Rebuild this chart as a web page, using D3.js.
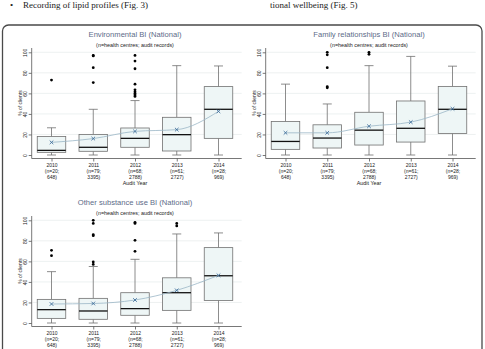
<!DOCTYPE html>
<html>
<head>
<meta charset="utf-8">
<script src="https://cdn.jsdelivr.net/npm/d3@7"></script>
<style>
body { margin: 0; background: #fff; }
svg { display: block; }
</style>
</head>
<body>
<svg id="chart"></svg>
<script>
var years = ["2010", "2011", "2012", "2013", "2014"];
var nCentres = ["(n=20;", "(n=79;", "(n=68;", "(n=61;", "(n=28;"];
var nRecords = ["648)", "3395)", "2788)", "2727)", "969)"];
var yTicks = [0, 20, 40, 60, 80, 100];

// box stats per year: [low whisker, q1, median, q3, high whisker]
var envBoxes = [
  [0, 2.6, 4.5, 18, 26.5],
  [0, 3.6, 7.5, 20, 44.5],
  [0, 7.5, 16.2, 26.3, 53],
  [0, 3.9, 19.8, 36.7, 87],
  [0, 16.2, 44.5, 66.6, 86.7]
];
var envMeans = [12.3, 16, 23, 24.7, 42.5];
var envOutliers = [[73], [97, 96.5, 85, 70.5], [97, 91.5, 84, 69, 63.5, 61.5, 60, 58.5, 57], [], []];

var famBoxes = [
  [0, 5.5, 13.2, 32.6, 69],
  [0, 6.8, 16.5, 29.4, 49.7],
  [0, 9.7, 24.2, 41.6, 87],
  [0, 12.6, 26, 52.6, 96],
  [0, 21, 44.5, 66.8, 86.5]
];
var famMeans = [21.6, 21.6, 28, 32, 45];
var famOutliers = [[], [100, 97.5, 85, 66.5, 65.5], [100, 98], [], []];

var othBoxes = [
  [0, 4.5, 13, 23, 50],
  [0, 3.6, 11.7, 24, 55],
  [0, 7.5, 14, 29.5, 62],
  [0, 12.3, 29.5, 44, 86.7],
  [0, 22, 46, 73.4, 87.7]
];
var othMeans = [18.5, 19, 22.4, 31.8, 46.4];
var othOutliers = [[70.8, 65.6], [100, 97, 86, 85, 59.4, 57], [98, 97, 80.5, 69.8], [97, 94.5], []];

var panels = [
  {title: "Environmental BI (National)", boxes: envBoxes, means: envMeans, outliers: envOutliers, dx: 0, dy: 0},
  {title: "Family relationships BI (National)", boxes: famBoxes, means: famMeans, outliers: famOutliers, dx: 234, dy: 0},
  {title: "Other substance use BI (National)", boxes: othBoxes, means: othMeans, outliers: othOutliers, dx: 0, dy: 168}
];

var width = 485, height = 349;
var svg = d3.select("#chart").attr("width", width).attr("height", height);

// page text above the figure
svg.append("text").text("\u2022").attr("x", 10).attr("y", 8)
   .attr("font-family", "Liberation Serif").attr("font-size", 9).attr("fill", "#222");
svg.append("text").text("Recording of lipid profiles (Fig. 3)").attr("x", 23).attr("y", 8)
   .attr("font-family", "Liberation Serif").attr("font-size", 9).attr("fill", "#222");
svg.append("text").text("tional wellbeing (Fig. 5)").attr("x", 270).attr("y", 8)
   .attr("font-family", "Liberation Serif").attr("font-size", 9).attr("fill", "#222");

// figure frame
svg.append("rect").attr("x", 2.5).attr("y", 25).attr("width", 479.5).attr("height", 340)
   .attr("rx", 6).attr("fill", "none").attr("stroke", "#4a4a4a").attr("stroke-width", 1.3);

var x = d3.scalePoint().domain(years).range([51.5, 218.5]);
var y = d3.scaleLinear().domain([0, 100]).range([155, 52.3]);
var plotLeft = 31.7, plotRight = 241.7, plotTop = 48, plotBottom = 158.5;

panels.forEach(function(p) {
  var g = svg.append("g").attr("transform", "translate(" + p.dx + "," + p.dy + ")");

  g.append("text").text(p.title)
   .attr("x", 135).attr("y", 37).attr("text-anchor", "middle")
   .attr("font-family", "Liberation Sans").attr("font-size", 7.6).attr("fill", "#5d6b88");
  g.append("text").text("(n=health centres; audit records)")
   .attr("x", 135).attr("y", 46.5).attr("text-anchor", "middle")
   .attr("font-family", "Liberation Sans").attr("font-size", 5.4).attr("fill", "#222");

  // grid
  g.selectAll("line.grid").data(yTicks.slice(1)).enter().append("line")
   .attr("class", "grid")
   .attr("x1", plotLeft + 1).attr("x2", plotRight)
   .attr("y1", function(d) { return y(d); }).attr("y2", function(d) { return y(d); })
   .attr("stroke", "#e9eeee").attr("stroke-width", 0.8);

  // y axis
  var yAxis = d3.axisLeft(y).tickValues(yTicks).tickSize(3).tickPadding(2);
  var ya = g.append("g").attr("transform", "translate(" + plotLeft + ",0)").call(yAxis);
  ya.select(".domain").attr("d", "M0," + plotTop + "V" + plotBottom).attr("stroke", "#555").attr("stroke-width", 0.8);
  ya.selectAll(".tick line").attr("stroke", "#555").attr("stroke-width", 0.8);
  ya.selectAll(".tick text")
    .attr("transform", "rotate(-90)").attr("x", 0).attr("y", -4.3).attr("dy", 0)
    .attr("text-anchor", "middle")
    .attr("font-family", "Liberation Sans").attr("font-size", 5).attr("fill", "#222");
  g.append("text").text("% of clients")
   .attr("transform", "translate(22,103) rotate(-90)").attr("text-anchor", "middle")
   .attr("font-family", "Liberation Sans").attr("font-size", 5).attr("fill", "#222");

  // x axis
  var xAxis = d3.axisBottom(x).tickSize(3).tickFormat("");
  var xa = g.append("g").attr("transform", "translate(0," + plotBottom + ")").call(xAxis);
  xa.select(".domain").attr("d", "M" + plotLeft + ",0H" + plotRight).attr("stroke", "#555").attr("stroke-width", 0.8);
  xa.selectAll(".tick line").attr("stroke", "#555").attr("stroke-width", 0.8);
  xa.selectAll(".tick").each(function(d, i) {
    var t = d3.select(this).append("text").attr("text-anchor", "middle")
      .attr("font-family", "Liberation Sans").attr("font-size", 5).attr("fill", "#222");
    [years[i], nCentres[i], nRecords[i]].forEach(function(s, k) {
      t.append("tspan").attr("x", 0).attr("y", 8.5 + k * 5.9).text(s);
    });
  });
  g.append("text").text("Audit Year")
   .attr("x", x("2012")).attr("y", 184.5).attr("text-anchor", "middle")
   .attr("font-family", "Liberation Sans").attr("font-size", 5.4).attr("fill", "#222");

  var bw = 28.5, cap = 9;
  var box = g.selectAll("g.box").data(p.boxes).enter().append("g").attr("class", "box")
    .attr("transform", function(d, i) { return "translate(" + x(years[i]) + ",0)"; });
  box.append("line").attr("x1", 0).attr("x2", 0)
    .attr("y1", function(d) { return y(d[0]); }).attr("y2", function(d) { return y(d[1]); })
    .attr("stroke", "#707070").attr("stroke-width", 0.8);
  box.append("line").attr("x1", 0).attr("x2", 0)
    .attr("y1", function(d) { return y(d[3]); }).attr("y2", function(d) { return y(d[4]); })
    .attr("stroke", "#707070").attr("stroke-width", 0.8);
  box.append("line").attr("x1", -cap / 2).attr("x2", cap / 2)
    .attr("y1", function(d) { return y(d[0]); }).attr("y2", function(d) { return y(d[0]); })
    .attr("stroke", "#707070").attr("stroke-width", 0.8);
  box.append("line").attr("x1", -cap / 2).attr("x2", cap / 2)
    .attr("y1", function(d) { return y(d[4]); }).attr("y2", function(d) { return y(d[4]); })
    .attr("stroke", "#707070").attr("stroke-width", 0.8);
  box.append("rect").attr("x", -bw / 2).attr("width", bw)
    .attr("y", function(d) { return y(d[3]); })
    .attr("height", function(d) { return y(d[1]) - y(d[3]); })
    .attr("fill", "#eef6f6").attr("stroke", "#707070").attr("stroke-width", 0.8);
  box.append("line").attr("x1", -bw / 2).attr("x2", bw / 2)
    .attr("y1", function(d) { return y(d[2]); }).attr("y2", function(d) { return y(d[2]); })
    .attr("stroke", "#111").attr("stroke-width", 1.3);

  // outliers
  p.outliers.forEach(function(list, i) {
    g.selectAll("circle.out" + i).data(list).enter().append("circle")
     .attr("cx", x(years[i])).attr("cy", function(d) { return y(d); })
     .attr("r", 1.4).attr("fill", "#000");
  });

  // mean line with x markers
  var line = d3.line()
    .x(function(d, i) { return x(years[i]); })
    .y(function(d) { return y(d); })
    .curve(d3.curveMonotoneX);
  g.append("path").datum(p.means).attr("d", line)
   .attr("fill", "none").attr("stroke", "#9bb6c6").attr("stroke-width", 0.8);
  var mk = g.selectAll("g.mean").data(p.means).enter().append("g").attr("class", "mean")
    .attr("transform", function(d, i) { return "translate(" + x(years[i]) + "," + y(d) + ")"; });
  mk.append("path").attr("d", "M-1.8,-1.8L1.8,1.8M-1.8,1.8L1.8,-1.8")
    .attr("stroke", "#3f6f9c").attr("stroke-width", 0.9);
});
</script>
</body>
</html>
